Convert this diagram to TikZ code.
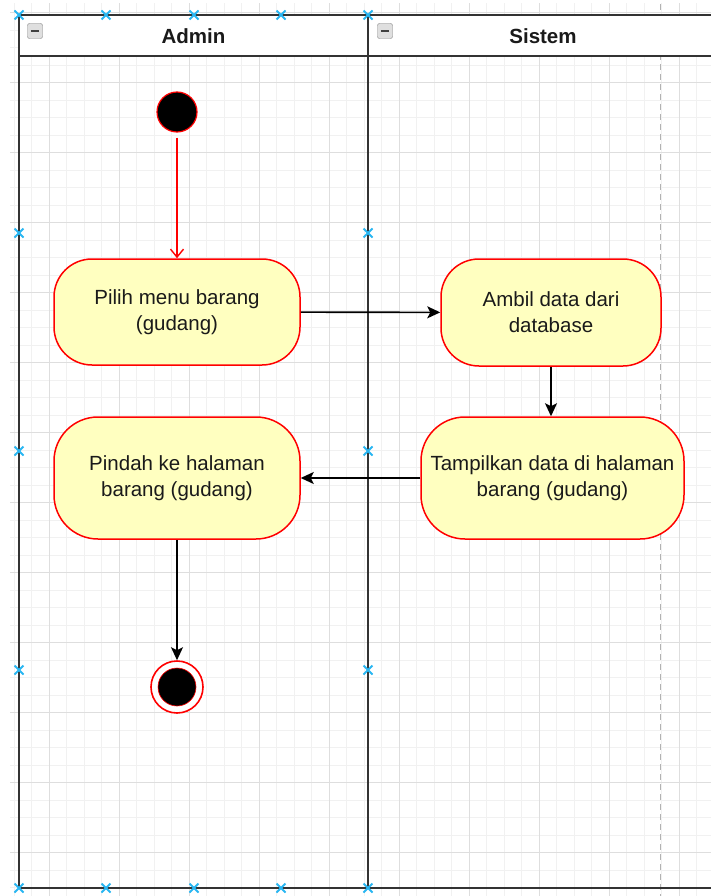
\documentclass[tikz,border=0pt]{standalone}
\usepackage{fontspec}
\setmainfont{Liberation Sans}
\usetikzlibrary{arrows.meta}

\definecolor{gridminor}{HTML}{F1F1F1}
\definecolor{gridmajor}{HTML}{DEDEDE}
\definecolor{lanecol}{HTML}{333333}
\definecolor{actfill}{HTML}{FFFFC0}
\definecolor{handlecol}{HTML}{29B6F2}
\definecolor{textcol}{HTML}{1A1A1A}

\tikzset{
  activity/.style={draw=red, fill=actfill, line width=1.5pt, align=center,
    inner sep=0pt, text=textcol, font=\fontsize{20.5}{26}\selectfont},
  lane/.style={draw=lanecol, line width=2pt},
  lanetitle/.style={font=\bfseries\fontsize{20.5}{24}\selectfont, text=textcol},
  flow/.style={draw=black, line width=1.6pt, -{Stealth[length=13pt,width=12pt,inset=3pt]}},
  startflow/.style={draw=red, line width=1.4pt, -{Straight Barb[length=8pt,width=13pt]}},
  handlemark/.style={draw=handlecol, line width=1.8pt},
  collapse/.style={draw=gray, fill=gray!25, rounded corners=2pt, minimum size=15pt, inner sep=0pt}
}

\begin{document}
\begin{tikzpicture}[x=1pt,y=-1pt]

\clip (0,0) rectangle (711,896);

% Grid
\begin{scope}
\clip (10,4) rectangle (711,896);
\foreach \i in {-2,...,38}
  \draw[gridminor, line width=0.9pt] ({49.3+17.5*\i},0) -- ({49.3+17.5*\i},896);
\foreach \j in {-1,...,51}
  \draw[gridminor, line width=0.9pt] (0,{12.7+17.5*\j}) -- (711,{12.7+17.5*\j});
\foreach \i in {0,...,9}
  \draw[gridmajor, line width=1.1pt] ({49.3+70*\i},0) -- ({49.3+70*\i},896);
\foreach \j in {0,...,12}
  \draw[gridmajor, line width=1.1pt] (0,{12.7+70*\j}) -- (711,{12.7+70*\j});
\draw[gray!60, line width=1.5pt, dash pattern=on 6pt off 4pt] (660.7,4) -- (660.7,896);
\end{scope}

% Swimlanes
\fill[white] (19,15) rectangle (730,56);
\draw[lane] (19,15) rectangle (730,888);
\draw[lane] (19,56) -- (730,56);
\draw[lane] (368,15) -- (368,888);

\node[lanetitle] (admin) at (193.5,36) {Admin};
\node[lanetitle] (sistem) at (543,36) {Sistem};

\node[collapse] (admincol) at (35,31) {};
\node[collapse] (sistemcol) at (385,31) {};
\draw[darkgray, line width=1.8pt] ([xshift=3.5pt]admincol.west) -- ([xshift=-3.5pt]admincol.east);
\draw[darkgray, line width=1.8pt] ([xshift=3.5pt]sistemcol.west) -- ([xshift=-3.5pt]sistemcol.east);

% Selection handles
\foreach \hx/\hy in {19/15, 106/15, 194/15, 281/15, 368/15,
                     19/233, 19/451, 19/670, 368/233, 368/451, 368/670,
                     19/888, 106/888, 194/888, 281/888, 368/888}
  \draw[handlemark] (\hx-4.5,\hy-4.5) -- (\hx+4.5,\hy+4.5) (\hx-4.5,\hy+4.5) -- (\hx+4.5,\hy-4.5);

% Nodes
\node[circle, draw=red, fill=black, line width=1.2pt, minimum size=40pt, inner sep=0pt] (start) at (177,112) {};

\node[activity, rounded corners=38pt, minimum width=246pt, minimum height=106pt] (pilih) at (177,312) {Pilih menu barang\\(gudang)};
\node[activity, rounded corners=38pt, minimum width=220pt, minimum height=107pt] (ambil) at (551,312.5) {Ambil data dari\\database};
\node[activity, rounded corners=44pt, minimum width=263pt, minimum height=122pt] (tampil) at (552.5,478) {Tampilkan data di halaman\\barang (gudang)};
\node[activity, rounded corners=44pt, minimum width=246pt, minimum height=122pt] (pindah) at (177,478) {Pindah ke halaman\\barang (gudang)};

\node[circle, draw=red, fill=white, line width=1.6pt, minimum size=52pt, inner sep=0pt] (end) at (177,687) {};
\node[circle, draw=red, fill=black, line width=0.6pt, minimum size=38pt, inner sep=0pt] (endcore) at (end) {};

% Flows
\draw[startflow, shorten <=5pt] (start) -- (pilih);
\draw[flow] (pilih) -- (ambil);
\draw[flow] (ambil.south) -- (ambil.south |- tampil.north);
\draw[flow] (tampil) -- (pindah);
\draw[flow] (pindah) -- (end);

\end{tikzpicture}
\end{document}
